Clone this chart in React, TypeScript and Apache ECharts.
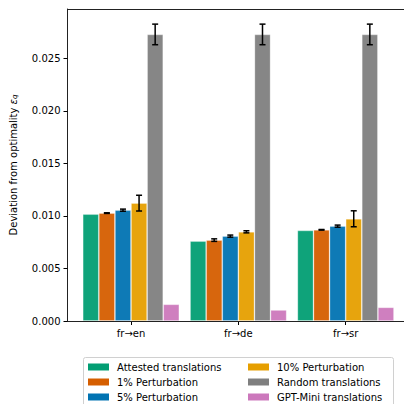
import React, { useEffect, useRef } from "react";
import * as echarts from "echarts";

// Language pairs on the x axis
const categories = ["fr→en", "fr→de", "fr→sr"];

// Series names, in legend order
const seriesNames = [
  "Attested translations",
  "1% Perturbation",
  "5% Perturbation",
  "10% Perturbation",
  "Random translations",
  "GPT-Mini translations",
];

// Deviation from optimality per language pair
const attested = [0.01017, 0.0076, 0.00862];
const pert1 = [0.01027, 0.0077, 0.00868];
const pert1Err = [0.00003, 0.00012, 0.00003];
const pert5 = [0.01055, 0.00808, 0.00903];
const pert5Err = [0.0001, 0.0001, 0.0001];
const pert10 = [0.01122, 0.00849, 0.00973];
const pert10Err = [0.00075, 0.0001, 0.00076];
const random = [0.02728, 0.02728, 0.02728];
const randomErr = [0.00098, 0.00098, 0.00098];
const gptMini = [0.00159, 0.00105, 0.0013];

// Y axis ticks
const yTicks = [0, 0.005, 0.01, 0.015, 0.02, 0.025];
const yMax = 0.0297;

const colors = ["#029e73", "#d55e00", "#0173b2", "#e69f00", "#7f7f7f", "#cc78bc"];
const values = [attested, pert1, pert5, pert10, random, gptMini];
const errors: (number[] | null)[] = [null, pert1Err, pert5Err, pert10Err, randomErr, null];

const FONT = "DejaVu Sans";
const CATEGORY_GAP = 0.1;
const SPINE = { show: true, lineStyle: { color: "#222", width: 1 } };

export default function App() {
  const ref = useRef<HTMLDivElement>(null);

  useEffect(() => {
    if (!ref.current) return;
    const chart = echarts.init(ref.current, null, { renderer: "svg" });
    const nSeries = values.length;

    const barSeries = values.map((vals, i) => ({
      name: seriesNames[i],
      type: "bar",
      xAxisIndex: 0,
      yAxisIndex: 0,
      data: vals,
      barGap: "0%",
      barCategoryGap: `${CATEGORY_GAP * 100}%`,
      itemStyle: {
        color: colors[i],
        opacity: 0.95,
        borderColor: "rgba(255,255,255,0.35)",
        borderWidth: 0.8,
      },
      z: 2,
    }));

    const errorSeries = errors
      .map((errs, i) => {
        if (!errs) return null;
        return {
          name: `err-${i}`,
          type: "custom",
          xAxisIndex: 0,
          yAxisIndex: 0,
          z: 5,
          data: values[i].map((v, k) => [k, v, errs[k]]),
          renderItem: (params: any, api: any) => {
            const cat = api.value(0);
            const v = api.value(1);
            const e = api.value(2);
            const band = api.size([1, 0])[0];
            const barW = (band * (1 - CATEGORY_GAP)) / nSeries;
            const offset = (i - (nSeries - 1) / 2) * barW;
            const lo = api.coord([cat, v - e]);
            const hi = api.coord([cat, v + e]);
            const x = lo[0] + offset;
            const cap = 3;
            const style = { stroke: "#000", lineWidth: 1.5 };
            return {
              type: "group",
              children: [
                { type: "line", shape: { x1: x, y1: lo[1], x2: x, y2: hi[1] }, style },
                { type: "line", shape: { x1: x - cap, y1: lo[1], x2: x + cap, y2: lo[1] }, style },
                { type: "line", shape: { x1: x - cap, y1: hi[1], x2: x + cap, y2: hi[1] }, style },
              ],
            };
          },
        };
      })
      .filter(Boolean);

    const legendCommon = {
      orient: "vertical",
      icon: "rect",
      itemWidth: 21,
      itemHeight: 7,
      itemGap: 5,
      padding: 0,
      textStyle: { fontFamily: FONT, fontSize: 10, color: "#000", padding: [0, 0, 0, 3] },
      itemStyle: { borderWidth: 0, opacity: 1 },
      selectedMode: false,
    };

    chart.setOption({
      animation: false,
      textStyle: { fontFamily: FONT },
      grid: [
        // bars
        { left: 77.35, width: 322, top: 9, bottom: 83 },
        // spines and y axis
        { left: 67, right: 0, top: 9, bottom: 83 },
      ],
      xAxis: [
        {
          type: "category",
          gridIndex: 0,
          data: categories,
          axisLine: { show: false },
          axisTick: { show: true, alignWithLabel: true, length: 4, lineStyle: { color: "#000" } },
          axisLabel: { fontFamily: FONT, fontSize: 10, color: "#000", margin: 7 },
          splitLine: { show: false },
        },
        {
          type: "value",
          gridIndex: 1,
          position: "bottom",
          min: 0,
          max: 1,
          axisLine: SPINE,
          axisTick: { show: false },
          axisLabel: { show: false },
          splitLine: { show: false },
          z: 3,
        },
        {
          type: "value",
          gridIndex: 1,
          position: "top",
          min: 0,
          max: 1,
          axisLine: SPINE,
          axisTick: { show: false },
          axisLabel: { show: false },
          splitLine: { show: false },
          z: 3,
        },
      ],
      yAxis: [
        {
          type: "value",
          gridIndex: 0,
          min: 0,
          max: yMax,
          show: false,
        },
        {
          type: "value",
          gridIndex: 1,
          min: 0,
          max: yMax,
          axisLine: SPINE,
          axisTick: {
            show: true,
            length: 4,
            customValues: yTicks,
            lineStyle: { color: "#000" },
          },
          axisLabel: {
            customValues: yTicks,
            formatter: (v: number) => v.toFixed(3),
            fontFamily: FONT,
            fontSize: 10,
            color: "#000",
            margin: 7,
          },
          splitLine: { show: false },
          name: "Deviation from optimality {eps|ε}{sub|q}",
          nameLocation: "middle",
          nameRotate: 90,
          nameGap: 49,
          nameTextStyle: {
            fontFamily: FONT,
            fontSize: 10,
            color: "#000",
            rich: {
              eps: { fontFamily: FONT, fontSize: 10, fontStyle: "italic", color: "#000" },
              sub: {
                fontFamily: FONT,
                fontSize: 7,
                fontStyle: "italic",
                color: "#000",
                verticalAlign: "bottom",
                padding: [4, 0, 0, 0],
              },
            },
          },
          z: 3,
        },
      ],
      legend: [
        { ...legendCommon, data: seriesNames.slice(0, 3), left: 88, top: 362 },
        { ...legendCommon, data: seriesNames.slice(3), left: 248, top: 362 },
      ],
      graphic: [
        {
          type: "rect",
          z: -1,
          shape: { x: 83.5, y: 357.5, width: 310, height: 60, r: 2 },
          style: { fill: "#fff", stroke: "#d0d0d0", lineWidth: 1 },
        },
      ],
      series: [...barSeries, ...errorSeries],
    });

    return () => chart.dispose();
  }, []);

  return (
    <div
      ref={ref}
      style={{ position: "fixed", left: 0, top: 0, width: 404, height: 404, background: "#fff" }}
    />
  );
}
